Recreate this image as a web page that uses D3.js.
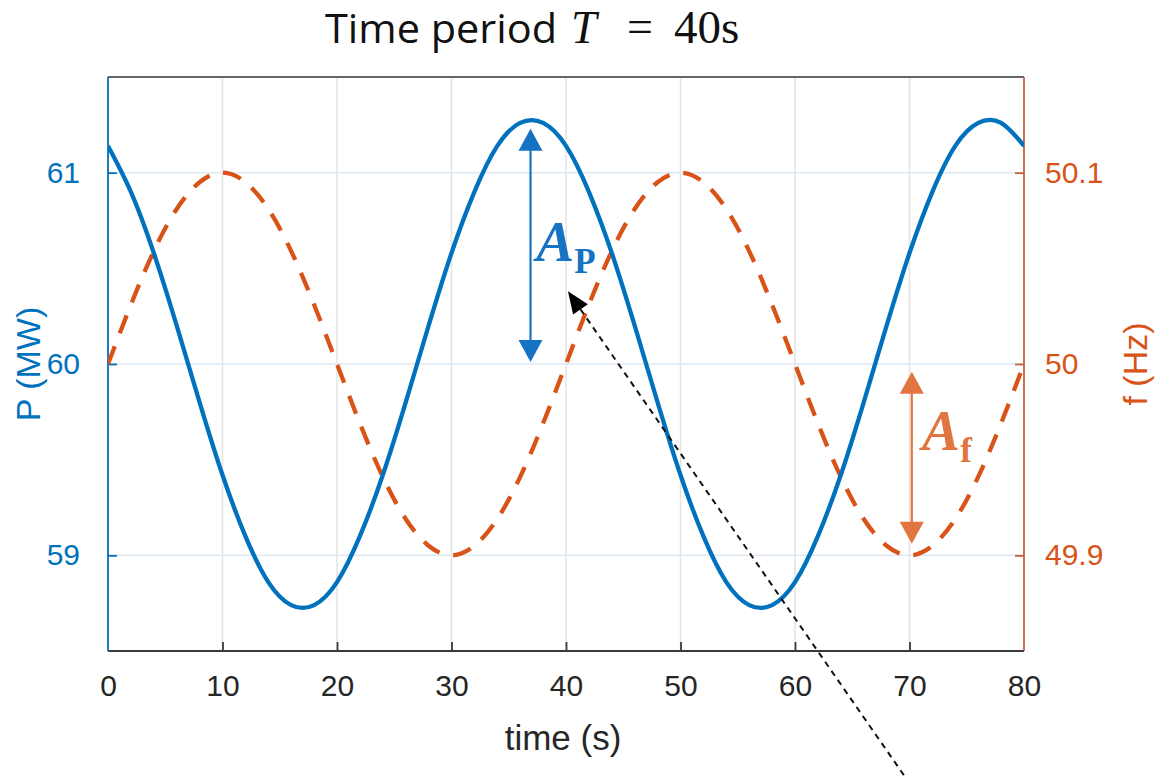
<!DOCTYPE html>
<html>
<head>
<meta charset="utf-8">
<script src="https://cdn.jsdelivr.net/npm/d3@7"></script>
<style>
  body { margin: 0; background: #fff; }
  svg { display: block; }
</style>
</head>
<body>
<svg id="chart" width="1160" height="779"></svg>
<script>
const time = d3.range(0, 81, 2);
const power = [
  61.14, 60.90, 60.58, 60.20, 59.80, 59.42, 59.10, 58.86, 58.74, 58.74,
  58.86, 59.10, 59.42, 59.80, 60.20, 60.58, 60.90, 61.14, 61.26, 61.26,
  61.14, 60.90, 60.58, 60.20, 59.80, 59.42, 59.10, 58.86, 58.74, 58.74,
  58.86, 59.10, 59.42, 59.80, 60.20, 60.58, 60.90, 61.14, 61.26, 61.26,
  61.14
];
const freq = [
  50.000, 50.031, 50.059, 50.081, 50.095, 50.100, 50.095, 50.081, 50.059, 50.031,
  50.000, 49.969, 49.941, 49.919, 49.905, 49.900, 49.905, 49.919, 49.941, 49.969,
  50.000, 50.031, 50.059, 50.081, 50.095, 50.100, 50.095, 50.081, 50.059, 50.031,
  50.000, 49.969, 49.941, 49.919, 49.905, 49.900, 49.905, 49.919, 49.941, 49.969,
  50.000
];
const xTicks = [0, 10, 20, 30, 40, 50, 60, 70, 80];
const pTicks = [59, 60, 61];
const fTicks = [49.9, 50, 50.1];

const blue = "#0072BD";
const orange = "#D95319";

const margin = { left: 108, right: 136, top: 77, bottom: 128 };
const W = 1160, H = 779;
const svg = d3.select("#chart");

const x = d3.scaleLinear().domain([0, 80]).range([margin.left, W - margin.right]);
const yP = d3.scaleLinear().domain([58.5, 61.5]).range([H - margin.bottom, margin.top]);
const yF = d3.scaleLinear().domain([49.85, 50.15]).range([H - margin.bottom, margin.top]);

const x0 = x(0), x1 = x(80), y0 = yP(58.5), y1 = yP(61.5);

svg.append("defs").append("clipPath").attr("id", "plot")
  .append("rect").attr("x", x0).attr("y", y1).attr("width", x1 - x0).attr("height", y0 - y1);

// grid
svg.append("g").selectAll("line").data(xTicks.slice(1, -1)).join("line")
  .attr("x1", d => x(d)).attr("x2", d => x(d)).attr("y1", y1).attr("y2", y0)
  .attr("stroke", "#e3e3e3").attr("stroke-width", 1.5);
svg.append("g").selectAll("line").data(pTicks).join("line")
  .attr("x1", x0).attr("x2", x1).attr("y1", d => yP(d)).attr("y2", d => yP(d))
  .attr("stroke", "#dde8f2").attr("stroke-width", 1.5);

// box
svg.append("line").attr("x1", x0).attr("x2", x1).attr("y1", y1).attr("y2", y1)
  .attr("stroke", "#666").attr("stroke-width", 1.8);
svg.append("line").attr("x1", x0).attr("x2", x1).attr("y1", y0).attr("y2", y0)
  .attr("stroke", "#3a3a3a").attr("stroke-width", 1.8);
svg.append("line").attr("x1", x0).attr("x2", x0).attr("y1", y1).attr("y2", y0)
  .attr("stroke", blue).attr("stroke-width", 1.8);
svg.append("line").attr("x1", x1).attr("x2", x1).attr("y1", y1).attr("y2", y0)
  .attr("stroke", "#C0623A").attr("stroke-width", 1.8);

// axes (ticks pointing inward)
const fontTicks = "'Liberation Sans', Arial, sans-serif";
const xAxis = svg.append("g").attr("transform", `translate(0,${y0})`)
  .call(d3.axisBottom(x).tickValues(xTicks).tickSizeInner(-9).tickSizeOuter(0).tickPadding(24));
xAxis.select(".domain").remove();
xAxis.selectAll(".tick line").attr("stroke", "#3a3a3a").attr("stroke-width", 1.8);
xAxis.selectAll(".tick text").attr("fill", "#262626").style("font", `30px ${fontTicks}`);
xAxis.selectAll(".tick").filter(d => d === 0 || d === 80).select("line").remove();

const pAxis = svg.append("g").attr("transform", `translate(${x0},0)`)
  .call(d3.axisLeft(yP).tickValues(pTicks).tickFormat(d3.format("d")).tickSizeInner(-9).tickSizeOuter(0).tickPadding(28));
pAxis.select(".domain").remove();
pAxis.selectAll(".tick line").attr("stroke", blue).attr("stroke-width", 1.8);
pAxis.selectAll(".tick text").attr("fill", blue).style("font", `30px ${fontTicks}`);

const fAxis = svg.append("g").attr("transform", `translate(${x1},0)`)
  .call(d3.axisRight(yF).tickValues(fTicks).tickFormat(d => d3.format("")(+d.toFixed(1))).tickSizeInner(-9).tickSizeOuter(0).tickPadding(21));
fAxis.select(".domain").remove();
fAxis.selectAll(".tick line").attr("stroke", "#C0623A").attr("stroke-width", 1.8);
fAxis.selectAll(".tick text").attr("fill", orange).style("font", `30px ${fontTicks}`);

// curves
const plot = svg.append("g").attr("clip-path", "url(#plot)");
plot.append("path").datum(time.map((t, i) => [t, freq[i]]))
  .attr("fill", "none").attr("stroke", orange).attr("stroke-width", 4.3)
  .attr("stroke-dasharray", "19,14")
  .attr("d", d3.line().x(d => x(d[0])).y(d => yF(d[1])).curve(d3.curveNatural));
plot.append("path").datum(time.map((t, i) => [t, power[i]]))
  .attr("fill", "none").attr("stroke", blue).attr("stroke-width", 4.3)
  .attr("d", d3.line().x(d => x(d[0])).y(d => yP(d[1])).curve(d3.curveNatural));

// axis labels
svg.append("text").attr("x", 563).attr("y", 750).attr("text-anchor", "middle")
  .attr("fill", "#262626").style("font", `35px ${fontTicks}`).text("time (s)");
svg.append("text").attr("transform", `translate(40,${yP(60)}) rotate(-90)`).attr("text-anchor", "middle")
  .attr("fill", blue).style("font", `34px ${fontTicks}`).text("P (MW)");
svg.append("text").attr("transform", `translate(1147,${yF(50)}) rotate(-90)`).attr("text-anchor", "middle")
  .attr("fill", orange).style("font", `34px ${fontTicks}`).text("f (Hz)");

// title
const title = svg.append("g").attr("fill", "#111");
title.append("text").attr("x", 325).attr("y", 43).attr("textLength", 232).attr("lengthAdjust", "spacingAndGlyphs")
  .style("font", "40px 'Open Sans', sans-serif").text("Time period");
title.append("text").attr("x", 571).attr("y", 43).style("font", "italic 46px 'Liberation Serif', serif").text("T");
title.append("text").attr("x", 627).attr("y", 42).style("font", "46px 'Liberation Serif', serif").text("=");
title.append("text").attr("x", 674).attr("y", 43).style("font", "47px 'Liberation Serif', serif").text("40s");

// annotations: amplitude arrows
function doubleArrow(xp, ya, yb, color) {
  const g = svg.append("g").attr("fill", color).attr("stroke", color);
  g.append("line").attr("x1", xp).attr("x2", xp).attr("y1", ya + 18).attr("y2", yb - 18)
    .attr("stroke-width", 2.2);
  g.append("path").attr("stroke", "none")
    .attr("d", `M${xp},${ya} L${xp - 12},${ya + 22} L${xp + 12},${ya + 22} Z`);
  g.append("path").attr("stroke", "none")
    .attr("d", `M${xp},${yb} L${xp - 12},${yb - 22} L${xp + 12},${yb - 22} Z`);
}
doubleArrow(x(36.9), yP(61.23), yP(60.01), "#1673C4");
doubleArrow(x(70.2), yF(49.996), yF(49.906), "#E07540");

function ampLabel(xp, yp, sub, color) {
  const t = svg.append("text").attr("x", xp).attr("y", yp).attr("fill", color)
    .style("font-family", "'Liberation Serif', 'DejaVu Serif', serif").style("font-weight", "bold");
  t.append("tspan").style("font-style", "italic").style("font-size", "57px").text("A");
  t.append("tspan").attr("dy", 12).style("font-size", "35px").text(sub);
}
ampLabel(x(37.4), yP(60.54), "P", "#1673C4");
ampLabel(x(71.1), yF(49.955), "f", "#E07540");

// dashed pointer arrow
const tip = [x(40.17), yP(60.38)];
const tail = [x(70.1), yP(57.8)];
const ang = Math.atan2(tail[1] - tip[1], tail[0] - tip[0]);
const headLen = 22, headW = 9;
const bx = tip[0] + headLen * Math.cos(ang), by = tip[1] + headLen * Math.sin(ang);
svg.append("line").attr("x1", bx).attr("y1", by).attr("x2", tail[0]).attr("y2", tail[1])
  .attr("stroke", "#111").attr("stroke-width", 2).attr("stroke-dasharray", "6,5");
svg.append("path").attr("fill", "#000")
  .attr("d", `M${tip[0]},${tip[1]} L${bx - headW * Math.sin(ang)},${by + headW * Math.cos(ang)} L${bx + headW * Math.sin(ang)},${by - headW * Math.cos(ang)} Z`);
</script>
</body>
</html>
